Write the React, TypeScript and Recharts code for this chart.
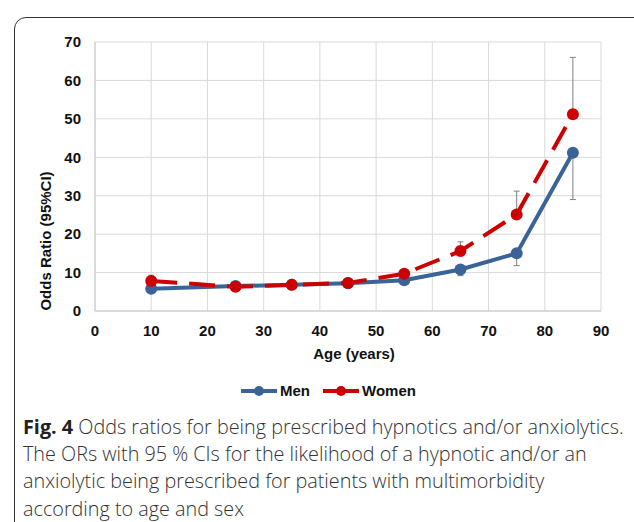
import { LineChart, Line, XAxis, YAxis, CartesianGrid, ErrorBar } from 'recharts'

const ages = [10, 25, 35, 45, 55, 65, 75, 85]
const menOR = [5.8, 6.5, 6.8, 7.2, 8.0, 10.8, 15.0, 41.2]
// men: only the lower CI limit is drawn
const menLow = [5.4, 6.1, 6.4, 6.8, 7.5, 9.2, 11.8, 29.0]
const womenOR = [7.8, 6.3, 6.8, 7.3, 9.7, 15.6, 25.1, 51.2]
// women: only the upper CI limit is drawn
const womenHigh = [9.3, 6.8, 7.3, 7.8, 10.4, 18.0, 31.2, 66.0]
const xTicks = [0, 10, 20, 30, 40, 50, 60, 70, 80, 90]
const yTicks = [0, 10, 20, 30, 40, 50, 60, 70]

const MEN = '#3A6397'
const WOMEN = '#CC0000'
const FONT = '"Liberation Sans", Arial, sans-serif'

const data = ages.map((age, i) => ({
  age,
  men: menOR[i],
  women: womenOR[i],
  menErr: [menOR[i] - menLow[i], 0],
  womenErr: [0, womenHigh[i] - womenOR[i]],
}))

const tickStyle = { fontSize: 15, fontWeight: 700, fill: '#111', fontFamily: FONT }

function LegendItem({ color, label, gap }: { color: string; label: string; gap: number }) {
  return (
    <span style={{ display: 'inline-flex', alignItems: 'center', marginRight: gap }}>
      <svg width={36} height={12} style={{ marginRight: 3 }}>
        <line x1={0} y1={6} x2={36} y2={6} stroke={color} strokeWidth={4} />
        <circle cx={18} cy={6} r={5} fill={color} />
      </svg>
      <span style={{ fontFamily: FONT, fontWeight: 700, fontSize: 15, color: '#111' }}>{label}</span>
    </span>
  )
}

export default function App() {
  return (
    <div
      style={{
        position: 'absolute',
        left: 0,
        top: 0,
        width: 634,
        height: 522,
        background: '#fff',
        overflow: 'hidden',
      }}
    >
      <div
        style={{
          position: 'absolute',
          left: 14,
          top: 17,
          width: 650,
          height: 540,
          border: '1.5px solid #333',
          borderRadius: 12,
        }}
      />
      <div style={{ position: 'absolute', left: 0, top: 0 }}>
        <LineChart width={634} height={362} data={data} margin={{ top: 42, right: 33, left: 33, bottom: 3 }}>
          <CartesianGrid stroke="#d9d9d9" strokeWidth={1} />
          <XAxis
            dataKey="age"
            type="number"
            domain={[0, 90]}
            ticks={xTicks}
            interval={0}
            height={48}
            tick={tickStyle}
            tickLine={false}
            tickMargin={8}
            axisLine={{ stroke: '#c8c8c8' }}
            label={{
              value: 'Age (years)',
              position: 'insideBottom',
              offset: 0,
              dx: 6,
              style: { fontSize: 15, fontWeight: 700, fill: '#111', fontFamily: FONT },
            }}
          />
          <YAxis
            type="number"
            domain={[0, 70]}
            ticks={yTicks}
            interval={0}
            width={62}
            tick={tickStyle}
            tickLine={false}
            tickMargin={8}
            axisLine={{ stroke: '#c8c8c8' }}
            label={{
              content: () => (
                <text
                  x={45}
                  y={241}
                  transform="rotate(-90 45 241)"
                  textAnchor="middle"
                  dominantBaseline="central"
                  style={{ fontSize: 15, fontWeight: 700, fill: '#111', fontFamily: FONT }}
                >
                  Odds Ratio (95%CI)
                </text>
              ),
            }}
          />
          <Line
            dataKey="men"
            name="Men"
            stroke={MEN}
            strokeWidth={4}
            dot={{ r: 6, fill: MEN, stroke: MEN, strokeWidth: 0 }}
            activeDot={false}
            isAnimationActive={false}
          >
            <ErrorBar dataKey="menErr" direction="y" width={3} stroke="#808080" strokeWidth={1} />
          </Line>
          <Line
            dataKey="women"
            name="Women"
            stroke={WOMEN}
            strokeWidth={4}
            strokeDasharray="26 12"
            dot={{ r: 6, fill: WOMEN, stroke: WOMEN, strokeWidth: 0, strokeDasharray: '' }}
            activeDot={false}
            isAnimationActive={false}
          >
            <ErrorBar dataKey="womenErr" direction="y" width={3} stroke="#808080" strokeWidth={1} />
          </Line>
        </LineChart>
      </div>
      <div style={{ position: 'absolute', left: 241, top: 382, display: 'flex', alignItems: 'center' }}>
        <LegendItem color={MEN} label="Men" gap={13} />
        <LegendItem color={WOMEN} label="Women" gap={0} />
      </div>
      <div
        style={{
          position: 'absolute',
          left: 23,
          top: 413,
          width: 620,
          fontFamily: '"Open Sans", sans-serif',
          fontSize: 19.8,
          fontWeight: 300,
          lineHeight: '27.2px',
          color: '#333',
          whiteSpace: 'nowrap',
        }}
      >
        <div>
          <b style={{ color: '#222', fontWeight: 700 }}>Fig. 4</b> Odds ratios for being prescribed hypnotics and/or
          anxiolytics.
        </div>
        <div>The ORs with 95 % CIs for the likelihood of a hypnotic and/or an</div>
        <div>anxiolytic being prescribed for patients with multimorbidity</div>
        <div>according to age and sex</div>
      </div>
    </div>
  )
}
